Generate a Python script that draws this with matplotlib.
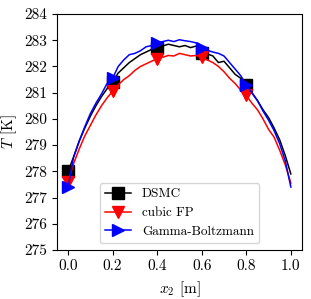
import numpy as np
import matplotlib
matplotlib.use("Agg")
import matplotlib.pyplot as plt

plt.rcParams['font.family'] = 'serif'
plt.rcParams['font.serif'] = ['cmr10', 'DejaVu Serif']
plt.rcParams['mathtext.fontset'] = 'cm'
plt.rcParams['axes.unicode_minus'] = False
plt.rcParams['font.size'] = 11

# Position along the channel [m]
x2 = np.array([0.0, 0.025, 0.05, 0.075, 0.1, 0.125, 0.15, 0.175, 0.2, 0.225,
               0.25, 0.275, 0.3, 0.325, 0.35, 0.375, 0.4, 0.425, 0.45, 0.475,
               0.5, 0.525, 0.55, 0.575, 0.6, 0.625, 0.65, 0.675, 0.7, 0.725,
               0.75, 0.775, 0.8, 0.825, 0.85, 0.875, 0.9, 0.925, 0.95, 0.975, 1.0])

# Temperature profiles [K]
T_dsmc = [278.0, 278.55, 279.15, 279.65, 280.1, 280.5, 280.85, 281.15, 281.4, 281.75,
          281.95, 282.15, 282.3, 282.45, 282.55, 282.65, 282.7, 282.78, 282.85, 282.8,
          282.75, 282.8, 282.72, 282.78, 282.5, 282.48, 282.4, 282.15, 282.2, 281.95,
          281.7, 281.55, 281.3, 281.0, 280.7, 280.35, 280.05, 279.65, 279.2, 278.6, 277.9]
T_cubic = [277.6, 278.3, 278.85, 279.35, 279.75, 280.15, 280.5, 280.8, 281.05, 281.3,
           281.5, 281.65, 281.85, 282.0, 282.1, 282.2, 282.3, 282.35, 282.42, 282.4,
           282.5, 282.45, 282.4, 282.42, 282.35, 282.25, 282.15, 282.0, 281.8, 281.55,
           281.35, 281.1, 280.9, 280.6, 280.35, 280.0, 279.6, 279.3, 278.8, 278.25, 277.55]
T_gamma = [277.4, 278.55, 279.15, 279.7, 280.2, 280.6, 280.95, 281.35, 281.55, 282.0,
           282.25, 282.45, 282.5, 282.6, 282.75, 282.8, 282.9, 282.95, 283.0, 282.95,
           283.02, 282.98, 282.95, 282.9, 282.7, 282.62, 282.55, 282.5, 282.4, 282.15,
           281.9, 281.65, 281.3, 281.0, 280.7, 280.3, 279.95, 279.55, 279.05, 278.4, 277.4]

marks = [0, 8, 16, 24, 32]  # markers at x2 = 0, 0.2, ..., 0.8

fig = plt.figure(figsize=(3.11, 2.99), dpi=100)
ax = fig.add_axes([0.183, 0.164, 0.788, 0.789])

ax.plot(x2, T_dsmc, 'k-', marker='s', markevery=marks, markersize=8, lw=1.1, label='DSMC')
ax.plot(x2, T_cubic, 'r-', marker='v', markevery=marks, markersize=8, lw=1.1, label='cubic FP')
ax.plot(x2, T_gamma, 'b-', marker='>', markevery=marks, markersize=8, lw=1.1, label='Gamma-Boltzmann')

ax.set_ylim(275, 284)
ax.set_yticks(np.arange(275, 285, 1))
ax.set_xticks(np.arange(0, 1.01, 0.2))
ax.set_xticklabels(['0.0', '0.2', '0.4', '0.6', '0.8', '1.0'])
ax.set_xlabel(r'$x_2$ [m]')
ax.set_ylabel(r'$T$ [K]')
ax.legend(loc='lower center', fontsize=9.5)

fig.savefig('out.png', dpi=100)
